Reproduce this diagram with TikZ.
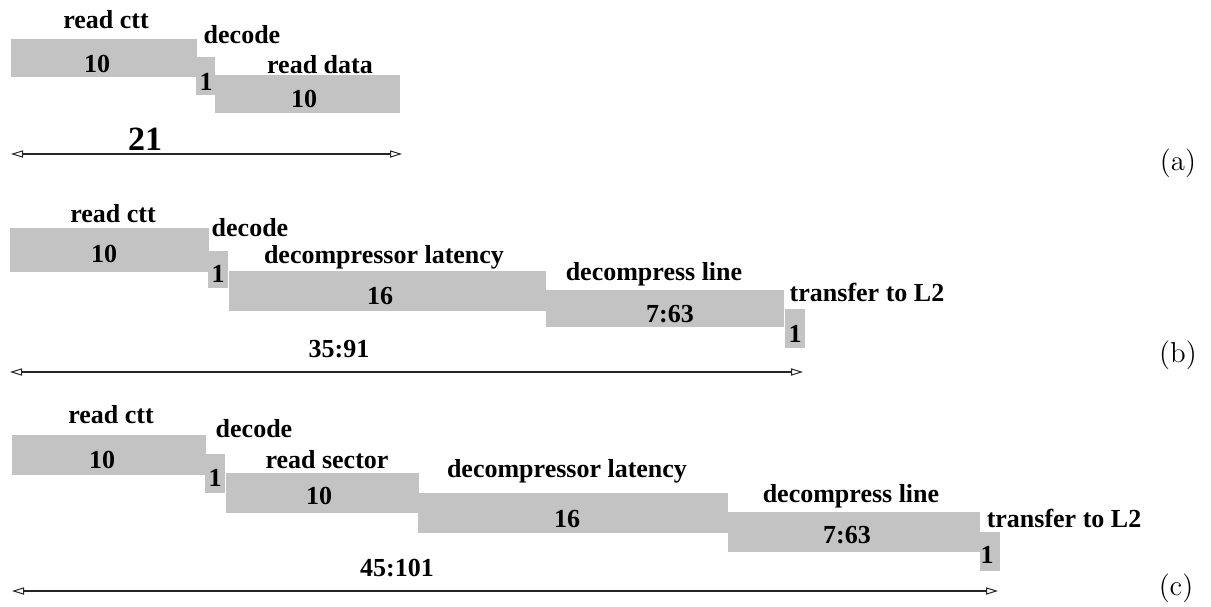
\documentclass[tikz,border=0pt]{standalone}
\usepackage{fontspec}
\newfontfamily\tms{Liberation Serif}
\usetikzlibrary{arrows.meta}
\definecolor{barfill}{RGB}{195,195,195}
\tikzset{
  bar/.style={fill=barfill, draw=none, anchor=north west, inner sep=0pt, outer sep=0pt},
  lbl/.style={anchor=base, inner sep=0pt, font=\tms\bfseries\fontsize{13pt}{15pt}\selectfont},
  big/.style={anchor=base, inner sep=0pt, font=\tms\bfseries\fontsize{17pt}{19pt}\selectfont},
  tag/.style={anchor=base, inner sep=0pt, font=\fontsize{14.4pt}{17pt}\selectfont},
  span/.style={line width=0.6pt, draw=black!85, {Triangle[open,length=6pt,width=3.6pt,line width=0.5pt]}-{Triangle[open,length=6pt,width=3.6pt,line width=0.5pt]}}
}
\newcommand{\barbox}[5]{\node[bar, minimum width=#4*0.5pt, minimum height=#5*0.5pt] (#1) at (#2,#3) {};}
\begin{document}
\begin{tikzpicture}[x=0.5pt,y=-0.5pt]
\useasboundingbox (0,0) rectangle (1211,606);
% ---------- (a)
\barbox{a1}{11}{39}{186}{38}
\barbox{a2}{196}{57}{19}{38}
\barbox{a3}{215}{75}{185}{38}
\node[lbl] (ta1) at (106,28) {read ctt};
\node[lbl] (ta2) at (242,43) {decode};
\node[lbl] (ta3) at (320,73) {read data};
\node[lbl] (na1) at (97,72) {10};
\node[lbl] (na2) at (206,90) {1};
\node[lbl] (na3) at (304,107) {10};
\node[big] (sa) at (145,150) {21};
\coordinate (aL) at (11,154);
\coordinate (aR) at (402,154);
\draw[span] (aL) -- (aR);
\node[tag] (la) at (1178,170) {(a)};
% ---------- (b)
\barbox{b1}{10}{228}{199}{44}
\barbox{b2}{208}{251}{20}{37}
\barbox{b3}{229}{271}{317}{40}
\barbox{b4}{546}{290}{238}{37}
\barbox{b5}{785}{309}{20}{39}
\node[lbl] (tb1) at (113,222) {read ctt};
\node[lbl] (tb2) at (250,236) {decode};
\node[lbl] (tb3) at (384,263) {decompressor latency};
\node[lbl] (tb4) at (654,280) {decompress line};
\node[lbl] (tb5) at (867,301) {transfer to L2};
\node[lbl] (nb1) at (104,262) {10};
\node[lbl] (nb2) at (218,282) {1};
\node[lbl] (nb3) at (380,304) {16};
\node[lbl] (nb4) at (670,322) {7:63};
\node[lbl] (nb5) at (795,342) {1};
\node[lbl] (sb) at (339,357) {35:91};
\coordinate (bL) at (10,372);
\coordinate (bR) at (803,372);
\draw[span] (bL) -- (bR);
\node[tag] (lb) at (1178,362) {(b)};
% ---------- (c)
\barbox{c1}{12}{435}{194}{40}
\barbox{c2}{205}{454}{20}{39}
\barbox{c3}{226}{473}{193}{40}
\barbox{c4}{418}{493}{310}{40}
\barbox{c5}{728}{512}{252}{40}
\barbox{c6}{980}{532}{20}{39}
\node[lbl] (tc1) at (111,423) {read ctt};
\node[lbl] (tc2) at (254,437) {decode};
\node[lbl] (tc3) at (327,468) {read sector};
\node[lbl] (tc4) at (567,477) {decompressor latency};
\node[lbl] (tc5) at (851,502) {decompress line};
\node[lbl] (tc6) at (1064,527) {transfer to L2};
\node[lbl] (nc1) at (102,468) {10};
\node[lbl] (nc2) at (215,486) {1};
\node[lbl] (nc3) at (319,504) {10};
\node[lbl] (nc4) at (567,527) {16};
\node[lbl] (nc5) at (847,543) {7:63};
\node[lbl] (nc6) at (987,563) {1};
\node[lbl] (sc) at (397,576) {45:101};
\coordinate (cL) at (12,591);
\coordinate (cR) at (998,591);
\draw[span] (cL) -- (cR);
\node[tag] (lc) at (1176,595) {(c)};
\end{tikzpicture}
\end{document}
